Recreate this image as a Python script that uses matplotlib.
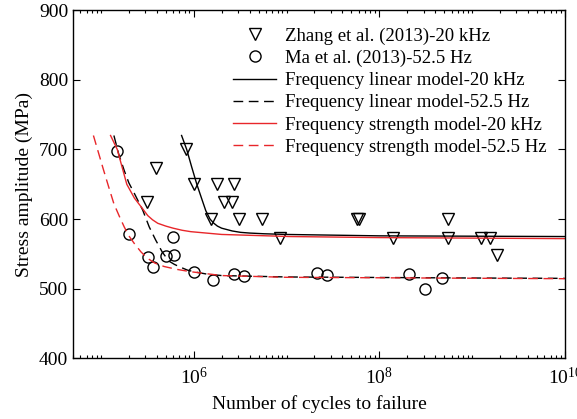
import matplotlib
matplotlib.use("Agg")
import matplotlib.pyplot as plt
from matplotlib.ticker import FixedLocator, FixedFormatter, NullFormatter

plt.rcParams['font.family'] = ['Liberation Serif', 'DejaVu Serif']
plt.rcParams['mathtext.fontset'] = 'custom'
plt.rcParams['mathtext.rm'] = 'Liberation Serif'
plt.rcParams['mathtext.it'] = 'Liberation Serif:italic'

# Zhang et al. (2013) - 20 kHz test points
zhang_n = [8.3e5, 3.9e5, 1.0e6, 1.78e6, 2.7e6, 3.1e5, 2.1e6, 2.6e6, 1.54e6, 3.1e6, 5.5e6,
           8.5e6, 5.7e7, 6.1e7, 1.4e8, 5.5e8, 5.5e8, 1.26e9, 1.55e9, 1.85e9]
zhang_s = [700, 674, 650, 650, 650, 625, 625, 625, 600, 600, 600,
           573, 600, 600, 573, 600, 573, 573, 573, 548]

# Ma et al. (2013) - 52.5 Hz test points
ma_n = [1.5e5, 2.0e5, 6.0e5, 3.2e5, 5.0e5, 6.1e5, 3.6e5, 1.0e6, 1.6e6, 2.7e6, 3.5e6,
        2.15e7, 2.76e7, 2.1e8, 3.1e8, 4.7e8]
ma_s = [698, 578, 575, 546, 547, 549, 531, 524, 512, 521, 518,
        522, 520, 521, 500, 515]

# model curves
lin20_n = [7.4e5, 8.4e5, 9.5e5, 1.08e6, 1.25e6, 1.35e6, 1.5e6, 1.65e6, 1.8e6, 2.0e6, 2.6e6,
           3.2e6, 4e6, 5.7e6, 1e7, 1e8, 1e10]
lin20_s = [720, 700, 675, 650, 625, 612, 600, 594, 590, 587, 583,
           581, 580, 579, 578, 576, 575]

lin52_n = [1.38e5, 1.55e5, 1.78e5, 2.0e5, 2.29e5, 2.82e5, 3.31e5, 3.89e5, 4.57e5, 5.37e5,
           6.2e5, 7.2e5, 8.5e5, 1.0e6, 1.4e6, 2e6, 1e7, 1e9, 1e10]
lin52_s = [720, 694, 670, 652, 637, 613, 589, 570, 553, 540,
           535, 531, 527, 524.5, 521, 519, 517, 515.5, 515]

str20_n = [1.27e5, 1.5e5, 1.9e5, 2.3e5, 2.7e5, 3.2e5, 3.6e5, 4.1e5, 5e5, 6e5, 7.5e5, 9.3e5,
           2e6, 1.1e7, 1e8, 1e10]
str20_s = [720, 700, 650, 630, 618, 605, 599, 594, 590, 587, 584, 582,
           578, 575, 573.5, 572]

str52_n = [8.3e4, 1.07e5, 1.22e5, 1.38e5, 1.58e5, 1.78e5, 2.0e5, 2.29e5, 2.7e5, 3.16e5,
           3.8e5, 4.8e5, 6.5e5, 9.3e5, 2e6, 1e7, 1e10]
str52_s = [720, 670, 645, 622, 604, 589, 576, 565, 553, 544,
           537, 532, 528, 524.5, 519, 516.5, 514.5]

fig = plt.figure(figsize=(5.77, 4.19), dpi=100)
ax = fig.add_axes([0.1265, 0.1444, 0.8525, 0.8316])

ax.plot(zhang_n, zhang_s, linestyle='none', marker='v', ms=8, mfc='none', mec='black',
        mew=1.0, label='Zhang et al. (2013)-20 kHz')
ax.plot(ma_n, ma_s, linestyle='none', marker='o', ms=8, mfc='none', mec='black',
        mew=1.0, label='Ma et al. (2013)-52.5 Hz')
ax.plot(lin20_n, lin20_s, color='black', lw=1.0, label='Frequency linear model-20 kHz')
ax.plot(lin52_n, lin52_s, color='black', lw=1.0, ls=(0, (7, 4)), label='Frequency linear model-52.5 Hz')
ax.plot(str20_n, str20_s, color='#e8262a', lw=1.0, label='Frequency strength model-20 kHz')
ax.plot(str52_n, str52_s, color='#e8262a', lw=1.0, ls=(0, (7, 4)), label='Frequency strength model-52.5 Hz')

ax.set_xscale('log')
ax.set_xlim(5e4, 1e10)
ax.set_ylim(400, 900)

ax.xaxis.set_major_locator(FixedLocator([1e6, 1e8, 1e10]))
ax.xaxis.set_major_formatter(FixedFormatter([r'$10^6$', r'$10^8$', r'$10^{10}$']))
minor = [m * 10.0 ** k for k in range(4, 10) for m in range(1, 10)]
minor = [v for v in minor if 5e4 <= v <= 1e10 and v not in (1e6, 1e8, 1e10)]
ax.xaxis.set_minor_locator(FixedLocator(minor))
ax.xaxis.set_minor_formatter(NullFormatter())
ax.set_yticks([400, 500, 600, 700, 800, 900])

ax.tick_params(which='both', direction='in', top=True, right=True, labelsize=14, width=0.8)
ax.tick_params(which='major', length=5)
ax.tick_params(which='minor', length=2.5)
ax.tick_params(axis='x', which='major', pad=6)
for sp in ax.spines.values():
    sp.set_linewidth(1.0)

ax.set_xlabel('Number of cycles to failure', fontsize=14, labelpad=5)
ax.set_ylabel('Stress amplitude (MPa)', fontsize=14, labelpad=4)

ax.legend(loc='upper right', bbox_to_anchor=(0.978, 0.972), borderaxespad=0,
          frameon=False, fontsize=13.5, handlelength=2.3, labelspacing=0.27,
          handletextpad=0.45)

fig.savefig('out.png', dpi=100)
